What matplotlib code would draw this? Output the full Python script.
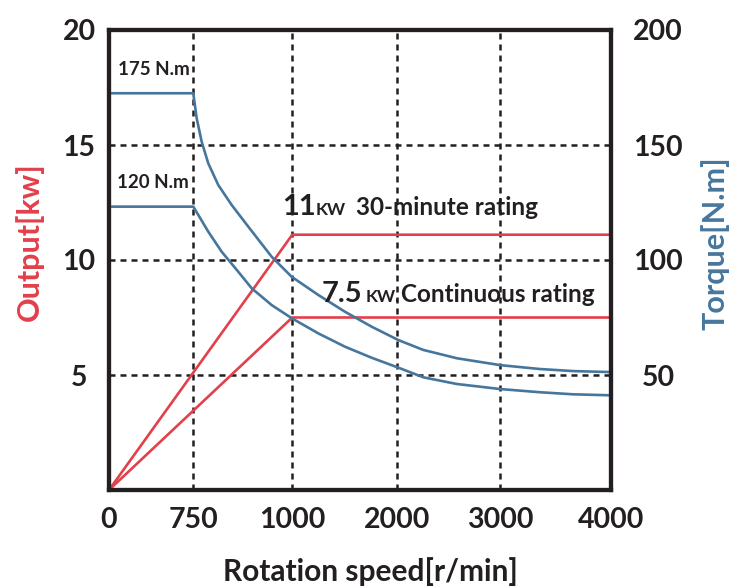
"""Motor output / torque characteristic chart."""

import matplotlib
matplotlib.use("Agg")
import matplotlib.pyplot as plt
import numpy as np

# x axis ticks (the speed axis is not linear: each tick gets its own slot)
speed_ticks = [0, 750, 1000, 2000, 3000, 4000]
speed_tick_labels = ["0", "750", "1000", "2000", "3000", "4000"]
output_ticks = [5, 10, 15, 20]
torque_ticks = [50, 100, 150, 200]

# output [kW]
out_speed = [0, 1000, 4000]
out_30min = [0, 11.1, 11.1]
out_cont = [0, 7.5, 7.5]

# torque [N.m]
torque_hi_speed = [0, 750, 758.6, 771.2, 787.9, 813.1, 847, 888.9, 948, 998.5, 1247.6, 1501.9,
                   1756, 2009.7, 2253, 2578, 3000, 3360, 3660, 3975.6, 4000]
torque_hi = [172.5, 172.5, 161.6, 151.4, 142.0, 132.6, 123.9, 114.5, 101.4, 92.7, 84.8, 77.5,
             71.0, 65.2, 60.9, 57.3, 54.3, 52.6, 51.7, 51.3, 51.3]
torque_lo_speed = [0, 750, 762.6, 787.9, 821.7, 863.6, 897.5, 948, 998.5, 1247.6, 1501.9,
                   1756, 2009.7, 2253, 2578, 3000, 3360, 3660, 3975.6, 4000]
torque_lo = [123.2, 123.2, 119.6, 112.3, 103.6, 94.9, 87.7, 80.4, 74.7, 68.1, 62.3,
             57.5, 53.2, 49.0, 46.1, 43.9, 42.5, 41.6, 41.2, 41.2]

RED = "#e2404b"
BLUE = "#47769c"
DARK = "#231f20"
FONT = "Lato"

# slot position of each speed tick (fraction of the axis width)
slot_pos = [0, 0.1679, 0.3651, 0.5743, 0.7789, 1.0]


def fwd(v):
    v = np.asarray(v, dtype=float)
    return np.interp(v, speed_ticks, slot_pos) + \
        np.where(v > 4000, (v - 4000) / 4000, 0) + np.where(v < 0, v / 4000, 0)


def inv(p):
    p = np.asarray(p, dtype=float)
    return np.interp(p, slot_pos, speed_ticks) + \
        np.where(p > 1, (p - 1) * 4000, 0) + np.where(p < 0, p * 4000, 0)


plt.rcParams["font.family"] = FONT
plt.rcParams["font.weight"] = "bold"
plt.rcParams["axes.labelweight"] = "bold"

fig = plt.figure(figsize=(7.29, 5.88), dpi=100)
ax = fig.add_axes([109 / 729, 1 - 490 / 588, 502 / 729, 460 / 588])
ax.set_xscale("function", functions=(fwd, inv))
ax.set_xlim(0, 4000)
ax.set_ylim(0, 20)

grid_kw = dict(color=DARK, lw=1.8, linestyle=(0, (2.4, 2.0)), zorder=1)
for s in speed_ticks[1:-1]:
    ax.axvline(s, **grid_kw)
for v in output_ticks[:-1]:
    ax.axhline(v, **grid_kw)

line_kw = dict(lw=1.9, zorder=3, solid_joinstyle="round")
ax.plot(out_speed, out_30min, color=RED, **line_kw)
ax.plot(out_speed, out_cont, color=RED, **line_kw)

ax2 = ax.twinx()
ax2.set_ylim(0, 200)
ax2.plot(torque_hi_speed, torque_hi, color=BLUE, **line_kw)
ax2.plot(torque_lo_speed, torque_lo, color=BLUE, **line_kw)

ax.set_xticks(speed_ticks)
ax.set_xticklabels(speed_tick_labels)
ax.xaxis.set_minor_locator(matplotlib.ticker.NullLocator())
ax.set_yticks(output_ticks)
ax2.set_yticks(torque_ticks)

ax.tick_params(axis="x", length=0, pad=12, labelsize=20.5, colors=DARK)
ax.tick_params(axis="y", length=0, pad=21.6, labelsize=20.5, colors=DARK)
ax2.tick_params(axis="y", length=0, pad=33.8, labelsize=20.5, colors=DARK)
for lab in ax.get_yticklabels():
    lab.set_horizontalalignment("center")
for lab in ax2.get_yticklabels():
    lab.set_horizontalalignment("center")

for a in (ax, ax2):
    for sp in a.spines.values():
        sp.set_linewidth(3.0)
        sp.set_color(DARK)
        sp.set_zorder(5)

ax.set_xlabel("Rotation speed[r/min]", fontsize=21.5, color=DARK, va="center")
ax.xaxis.set_label_coords(0.52, -0.178)
ax.set_ylabel("Output[kw]", fontsize=22, color=RED, va="center")
ax.yaxis.set_label_coords(-0.159, 0.539)
ax2.set_ylabel("Torque[N.m]", fontsize=22, color=BLUE, va="center", rotation=90)
ax2.yaxis.set_label_coords(1.207, 0.537)


def ftext(x, y, s, size, **kw):
    fig.text(x / 729, 1 - y / 588, s, fontsize=size, color=DARK, va="baseline", **kw)


ftext(118, 75, "175 N.m", 13.5)
ftext(117, 188, "120 N.m", 13.5)
ftext(282, 215.5, "11", 21)
ftext(316, 215.5, "KW", 12.5)
ftext(356, 215.5, "30-minute rating", 17.5)
ftext(322, 301.5, "7.5", 21)
ftext(366, 301.5, "KW.", 12.5)
ftext(401, 301.5, "Continuous rating", 17.5)

fig.savefig("out.png", dpi=100)
